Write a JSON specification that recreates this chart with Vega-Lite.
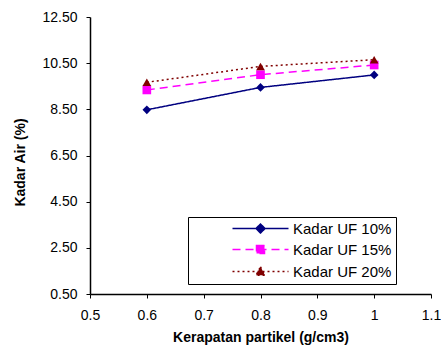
{
  "$schema": "https://vega.github.io/schema/vega-lite/v6.json",
  "width": 341,
  "height": 277,
  "autosize": "none",
  "padding": {"left": 90, "top": 17, "right": 10, "bottom": 53},
  "config": {
    "view": {"stroke": null},
    "font": "Liberation Sans",
    "axis": {
      "grid": false,
      "domainColor": "black",
      "tickColor": "black",
      "labelColor": "black",
      "titleColor": "black",
      "labelFontSize": 14,
      "titleFontSize": 14,
      "titleFontWeight": "bold",
      "labelFont": "Liberation Sans",
      "titleFont": "Liberation Sans",
      "tickSize": 4,
      "domainWidth": 1.5,
      "labelFlush": false,
      "labelOverlap": false
    }
  },
  "data": {
    "values": [
      {"series": "Kadar UF 10%", "x": 0.6, "y": 8.48},
      {"series": "Kadar UF 10%", "x": 0.8, "y": 9.45},
      {"series": "Kadar UF 10%", "x": 1.0, "y": 9.99},
      {"series": "Kadar UF 15%", "x": 0.6, "y": 9.34},
      {"series": "Kadar UF 15%", "x": 0.8, "y": 10.0},
      {"series": "Kadar UF 15%", "x": 1.0, "y": 10.42},
      {"series": "Kadar UF 20%", "x": 0.6, "y": 9.67},
      {"series": "Kadar UF 20%", "x": 0.8, "y": 10.36},
      {"series": "Kadar UF 20%", "x": 1.0, "y": 10.65}
    ]
  },
  "encoding": {
    "x": {
      "field": "x",
      "type": "quantitative",
      "scale": {"domain": [0.5, 1.1], "nice": false, "zero": false},
      "axis": {
        "values": [0.5, 0.6, 0.7, 0.8, 0.9, 1.0, 1.1],
        "format": "~g",
        "labelPadding": 10,
        "title": "Kerapatan partikel (g/cm3)",
        "titlePadding": 8
      }
    },
    "y": {
      "field": "y",
      "type": "quantitative",
      "scale": {"domain": [0.5, 12.5], "nice": false, "zero": false},
      "axis": {
        "values": [0.5, 2.5, 4.5, 6.5, 8.5, 10.5, 12.5],
        "format": ".2f",
        "labelPadding": 9,
        "title": "Kadar Air (%)",
        "titlePadding": 14,
        "titleY": 145
      }
    }
  },
  "layer": [
    {
      "mark": {"type": "line", "strokeWidth": 1.5},
      "encoding": {
        "color": {
          "field": "series",
          "type": "nominal",
          "scale": {
            "domain": ["Kadar UF 10%", "Kadar UF 15%", "Kadar UF 20%"],
            "range": ["#000080", "#FF00FF", "#800000"]
          },
          "legend": {
            "title": null,
            "orient": "none",
            "legendX": 98,
            "legendY": 200,
            "direction": "vertical",
            "strokeColor": "black",
            "fillColor": "white",
            "padding": 4,
            "rowPadding": 5,
            "symbolSize": 100,
            "symbolStrokeWidth": 1.5,
            "symbolOffset": 61,
            "labelFontSize": 15,
            "labelColor": "black",
            "labelOffset": 25,
            "encode": {
              "symbols": {
                "update": {
                  "shape": {"signal": "datum.value === 'Kadar UF 10%' ? 'M-5.6,0H5.6M-0.9,0L0,-0.9L0.9,0L0,0.9Z' : datum.value === 'Kadar UF 15%' ? 'M-5.6,0H5.6M-0.8,-0.8H0.8V0.8H-0.8Z' : 'M-5.6,0H5.6M0,-0.95L0.9,0.75H-0.9Z'"},
                  "fill": {"scale": "color", "field": "value"},
                  "fillOpacity": {"value": 1}
                }
              }
            }
          }
        },
        "strokeDash": {
          "field": "series",
          "type": "nominal",
          "scale": {
            "domain": ["Kadar UF 10%", "Kadar UF 15%", "Kadar UF 20%"],
            "range": [[1, 0], [8, 5], [2, 3]]
          }
        }
      }
    },
    {
      "mark": {"type": "point", "filled": true, "opacity": 1, "size": 75},
      "encoding": {
        "fill": {
          "field": "series",
          "type": "nominal",
          "scale": {"range": ["#000080", "#FF00FF", "#800000"]},
          "legend": null
        },
        "shape": {
          "field": "series",
          "type": "nominal",
          "scale": {"range": ["diamond", "square", "triangle-up"]},
          "legend": null
        }
      }
    }
  ]
}
